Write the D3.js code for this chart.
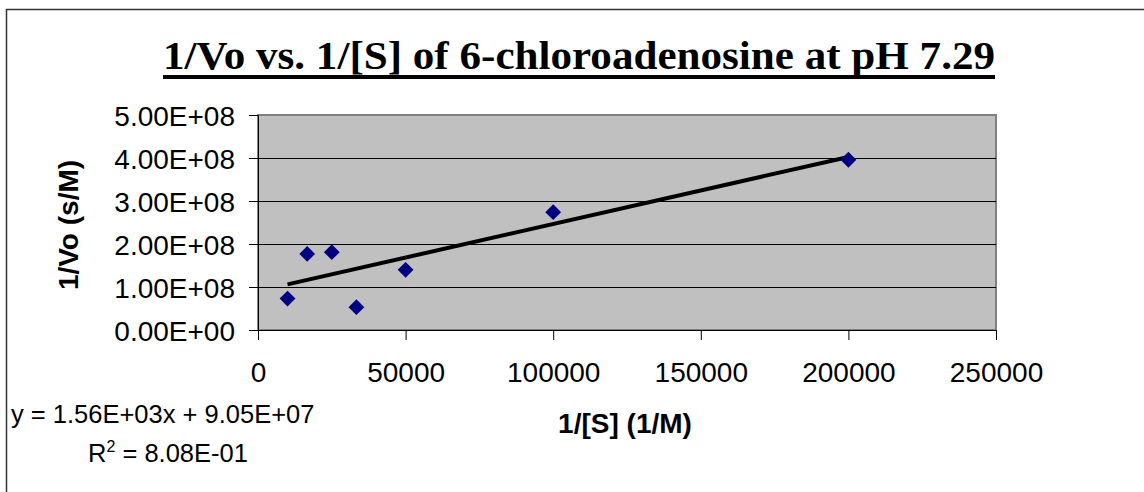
<!DOCTYPE html>
<html lang="en">
<head>
  <meta charset="utf-8">
  <title>1/Vo vs. 1/[S]</title>
  <script src="https://d3js.org/d3.v7.min.js"></script>
  <style>
    body { margin: 0; background: #ffffff; }
    svg { display: block; }
    .tick-label { font-family: Arial, "Liberation Sans", sans-serif; font-size: 28px; fill: #000; }
    .axis-title { font-family: Arial, "Liberation Sans", sans-serif; font-size: 28px; font-weight: bold; fill: #000; }
    .chart-title { font-family: "Times New Roman", "Liberation Serif", serif; font-size: 39px; font-weight: bold; fill: #000; }
    .fit-text { font-family: Arial, "Liberation Sans", sans-serif; font-size: 25.5px; fill: #000; }
  </style>
</head>
<body>
<script>
// data
var substrateInv = [10000, 16667, 25000, 33333, 50000, 100000, 200000];   // 1/[S] (1/M)
var velocityInv  = [0.73e8, 1.77e8, 1.81e8, 0.53e8, 1.40e8, 2.74e8, 3.96e8]; // 1/Vo (s/M)

var xTicks = [0, 50000, 100000, 150000, 200000, 250000];
var yTicks = [0, 1e8, 2e8, 3e8, 4e8, 5e8];

var fitSlope = 1.56e3;
var fitIntercept = 9.05e7;
var fitLabel = "y = 1.56E+03x + 9.05E+07";
var r2Label = "8.08E-01";

var titleText = "1/Vo vs. 1/[S] of 6-chloroadenosine at pH 7.29";
var xTitle = "1/[S] (1/M)";
var yTitle = "1/Vo (s/M)";

var width = 1144, height = 492;
var plot = { left: 258, right: 996, top: 115, bottom: 330 };

var svg = d3.select("body").append("svg")
    .attr("width", width)
    .attr("height", height);

// outer chart frame (cut off at right and bottom in the original)
svg.append("rect")
    .attr("x", 6.5).attr("y", 9.5)
    .attr("width", 1160).attr("height", 520)
    .attr("fill", "none")
    .attr("stroke", "#333")
    .attr("stroke-width", 1.5);

var x = d3.scaleLinear().domain([0, 250000]).range([plot.left, plot.right]);
var y = d3.scaleLinear().domain([0, 5e8]).range([plot.bottom, plot.top]);

// plot area
svg.append("rect")
    .attr("x", plot.left).attr("y", plot.top)
    .attr("width", plot.right - plot.left)
    .attr("height", plot.bottom - plot.top)
    .attr("fill", "#c0c0c0")
    .attr("stroke", "#808080")
    .attr("stroke-width", 2);

// gridlines
svg.append("g")
  .selectAll("line")
  .data(yTicks.filter(d => d > 0 && d < 5e8))
  .enter().append("line")
    .attr("x1", plot.left).attr("x2", plot.right)
    .attr("y1", d => Math.round(y(d)) + 0.5)
    .attr("y2", d => Math.round(y(d)) + 0.5)
    .attr("stroke", "#000")
    .attr("stroke-width", 1);

// y axis
var yAxis = svg.append("g")
    .attr("transform", "translate(" + plot.left + ",0)")
    .call(d3.axisLeft(y).tickValues(yTicks).tickSize(9).tickPadding(14)
      .tickFormat(d => d.toExponential(2).toUpperCase().replace(/E([+-])(\d)$/, "E$10$2")));
yAxis.select(".domain").attr("stroke", "#000");
yAxis.selectAll(".tick line").attr("stroke", "#000");
yAxis.selectAll(".tick text")
    .attr("class", "tick-label")
    .attr("dy", "0.36em");

// x axis
var xAxis = svg.append("g")
    .attr("transform", "translate(0," + plot.bottom + ")")
    .call(d3.axisBottom(x).tickValues(xTicks).tickSize(10).tickPadding(0)
      .tickFormat(d3.format("d")));
xAxis.select(".domain").attr("stroke", "#000");
xAxis.selectAll(".tick line").attr("stroke", "#000");
xAxis.selectAll(".tick text")
    .attr("class", "tick-label")
    .attr("y", 52)
    .attr("dy", 0);

// trend line over the data range
var xExt = d3.extent(substrateInv);
svg.append("line")
    .attr("x1", x(xExt[0])).attr("y1", y(fitSlope * xExt[0] + fitIntercept))
    .attr("x2", x(xExt[1])).attr("y2", y(fitSlope * xExt[1] + fitIntercept))
    .attr("stroke", "#000")
    .attr("stroke-width", 4);

// points
var points = substrateInv.map((v, i) => ({ x: v, y: velocityInv[i] }));
svg.append("g")
  .selectAll("path")
  .data(points)
  .enter().append("path")
    .attr("d", d3.symbol(d3.symbolSquare, 125))
    .attr("transform", d => "translate(" + x(d.x) + "," + y(d.y) + ") rotate(45)")
    .attr("fill", "#000080");

// title with underline
var title = svg.append("text")
    .attr("class", "chart-title")
    .attr("x", 579).attr("y", 69)
    .attr("text-anchor", "middle")
    .attr("textLength", 832)
    .attr("lengthAdjust", "spacingAndGlyphs")
    .text(titleText);
var tb = title.node().getBBox();
svg.append("rect")
    .attr("x", tb.x).attr("y", 75)
    .attr("width", tb.width).attr("height", 4)
    .attr("fill", "#000");

// axis titles
svg.append("text")
    .attr("class", "axis-title")
    .attr("x", 625).attr("y", 433)
    .attr("text-anchor", "middle")
    .text(xTitle);

svg.append("text")
    .attr("class", "axis-title")
    .attr("transform", "translate(78,225) rotate(-90)")
    .attr("text-anchor", "middle")
    .text(yTitle);

// regression labels
svg.append("text")
    .attr("class", "fit-text")
    .attr("x", 11).attr("y", 423)
    .text(fitLabel);

var r2 = svg.append("text")
    .attr("class", "fit-text")
    .attr("x", 88).attr("y", 462);
r2.append("tspan").text("R");
r2.append("tspan").attr("dy", -10).style("font-size", "16px").text("2");
r2.append("tspan").attr("dy", 10).text(" = " + r2Label);
</script>
</body>
</html>
